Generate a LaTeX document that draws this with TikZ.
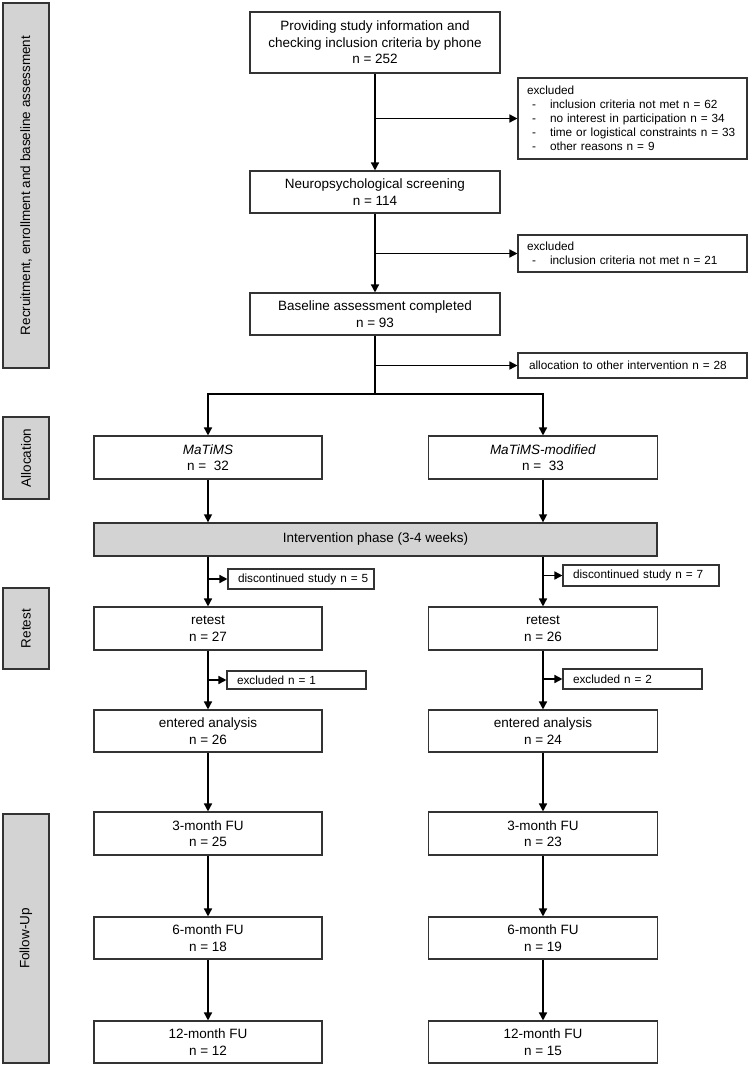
\documentclass[tikz,border=0pt]{standalone}
\usepackage{fontspec}
\setmainfont{Liberation Sans}
\usepackage{xcolor}
\usetikzlibrary{calc,arrows.meta}
\definecolor{bg}{HTML}{FFFFFF}
\definecolor{edge}{HTML}{333333}
\definecolor{barfill}{HTML}{D3D3D3}
\definecolor{ink}{HTML}{000000}
\tikzset{
  box/.style={draw=edge, fill=bg, line width=1.1pt, align=center, inner sep=2pt,
    text=ink, font=\fontsize{13.5}{16.5}\selectfont},
  excl/.style={draw=edge, fill=bg, line width=1.1pt, align=left, inner xsep=9pt, inner ysep=0pt,
    text=ink, font=\fontsize{11.8}{14}\selectfont},
  side/.style={draw=edge, fill=barfill, line width=1.3pt, rotate=90, inner sep=0pt,
    text=ink, font=\fontsize{13.5}{16}\selectfont},
  phase/.style={box, fill=barfill, line width=1.3pt},
  arr/.style={draw=ink, line width=1.5pt, -{Triangle[length=8pt,width=8pt]}},
  trunk/.style={draw=ink, line width=1.5pt},
}
\newcommand{\dashitem}[1]{\makebox[23pt][l]{\hspace*{5pt}-}#1}

\begin{document}
\begin{tikzpicture}[x=1pt, y=-1pt]
  \useasboundingbox[fill=bg] (0,0) rectangle (749,1068);
  % phase bars on the left
  \node[side, minimum width=365, minimum height=46] (barrec) at (26,185.5) {Recruitment, enrollment and baseline assessment};
  \node[side, minimum width=82, minimum height=46] (baralloc) at (26,458) {Allocation};
  \node[side, minimum width=81, minimum height=46] (barretest) at (26,628.5) {Retest};
  \node[side, minimum width=249, minimum height=46] (barfu) at (26,938.5) {Follow-Up};

  % enrollment
  \node[box, minimum width=250, minimum height=61] (phone) at (375,42.5) {Providing study information and\\checking inclusion criteria by phone\\n = 252};
  \node[excl, minimum width=229, minimum height=81, text width=211] (exphone) at (632.5,118.5) {excluded\\
    \dashitem{inclusion criteria not met n = 62}\\
    \dashitem{no interest in participation n = 34}\\
    \dashitem{time or logistical constraints n = 33}\\
    \dashitem{other reasons n = 9}};
  \node[box, minimum width=250, minimum height=42] (screen) at (375,192) {Neuropsychological screening\\n = 114};
  \node[excl, minimum width=229, minimum height=37, text width=211] (exscreen) at (632.5,253.5) {excluded\\
    \dashitem{inclusion criteria not met n = 21}};
  \node[box, minimum width=250, minimum height=42] (base) at (375,314) {Baseline assessment completed\\n = 93};
  \node[excl, minimum width=229, minimum height=25, text width=207, inner xsep=11pt] (exbase) at (632.5,365.5) {allocation to other intervention n = 28};
  \coordinate (split) at (375,394);

  % allocation
  \node[box, minimum width=228, minimum height=43] (matims) at (208,457.5) {\textit{MaTiMS}\\n =\ \ 32};
  \node[box, minimum width=229, minimum height=43] (modif) at (543,457.5) {\textit{MaTiMS-modified}\\n =\ \ 33};
  \node[phase, minimum width=563, minimum height=33] (interv) at (375.5,539.5) {Intervention phase (3-4 weeks)};

  % retest
  \node[excl, minimum width=146, minimum height=20, text width=126, inner xsep=10pt] (discl) at (301,579) {\mbox{discontinued study n = 5}};
  \node[excl, minimum width=156, minimum height=21, text width=136, inner xsep=10pt] (discr) at (641,575.5) {discontinued study n = 7};
  \node[box, minimum width=228, minimum height=43] (retl) at (208,628.5) {retest\\n = 27};
  \node[box, minimum width=229, minimum height=43] (retr) at (543,628.5) {retest\\n = 26};
  \node[excl, minimum width=139, minimum height=18, text width=119, inner xsep=10pt] (exretl) at (296.5,680) {excluded n = 1};
  \node[excl, minimum width=139, minimum height=20, text width=119, inner xsep=10pt] (exretr) at (632.5,679) {excluded n = 2};
  \node[box, minimum width=228, minimum height=42] (anl) at (208,731) {entered analysis\\n = 26};
  \node[box, minimum width=229, minimum height=42] (anr) at (543,731) {entered analysis\\n = 24};

  % follow-up
  \node[box, minimum width=228, minimum height=43] (fu3l) at (208,833.5) {3-month FU\\n = 25};
  \node[box, minimum width=229, minimum height=43] (fu3r) at (543,833.5) {3-month FU\\n = 23};
  \node[box, minimum width=228, minimum height=42] (fu6l) at (208,938) {6-month FU\\n = 18};
  \node[box, minimum width=229, minimum height=42] (fu6r) at (543,938) {6-month FU\\n = 19};
  \node[box, minimum width=228, minimum height=42] (fu12l) at (208,1042) {12-month FU\\n = 12};
  \node[box, minimum width=229, minimum height=42] (fu12r) at (543,1042) {12-month FU\\n = 15};

  % connectors
  \draw[arr] (phone) -- (screen);
  \draw[arr] (phone.south |- exphone.west) -- (exphone.west);
  \draw[arr] (screen) -- (base);
  \draw[arr] (screen.south |- exscreen.west) -- (exscreen.west);
  \draw[trunk] (base.south) -- (split);
  \draw[arr] (base.south |- exbase.west) -- (exbase.west);
  \draw[arr] (split) -| (matims.north);
  \draw[arr] (split) -| (modif.north);
  \draw[arr] (matims.south) -- (matims.south |- interv.north);
  \draw[arr] (modif.south) -- (modif.south |- interv.north);
  \draw[arr] (retl.north |- interv.south) -- (retl.north);
  \draw[arr] (retr.north |- interv.south) -- (retr.north);
  \draw[arr] (retl.north |- discl.west) -- (discl.west);
  \draw[arr] (retr.north |- discr.west) -- (discr.west);
  \draw[arr] (retl) -- (anl);
  \draw[arr] (retr) -- (anr);
  \draw[arr] (retl.south |- exretl.west) -- (exretl.west);
  \draw[arr] (retr.south |- exretr.west) -- (exretr.west);
  \foreach \a/\b in {anl/fu3l, anr/fu3r, fu3l/fu6l, fu3r/fu6r, fu6l/fu12l, fu6r/fu12r}
    \draw[arr] (\a) -- (\b);
\end{tikzpicture}
\end{document}
